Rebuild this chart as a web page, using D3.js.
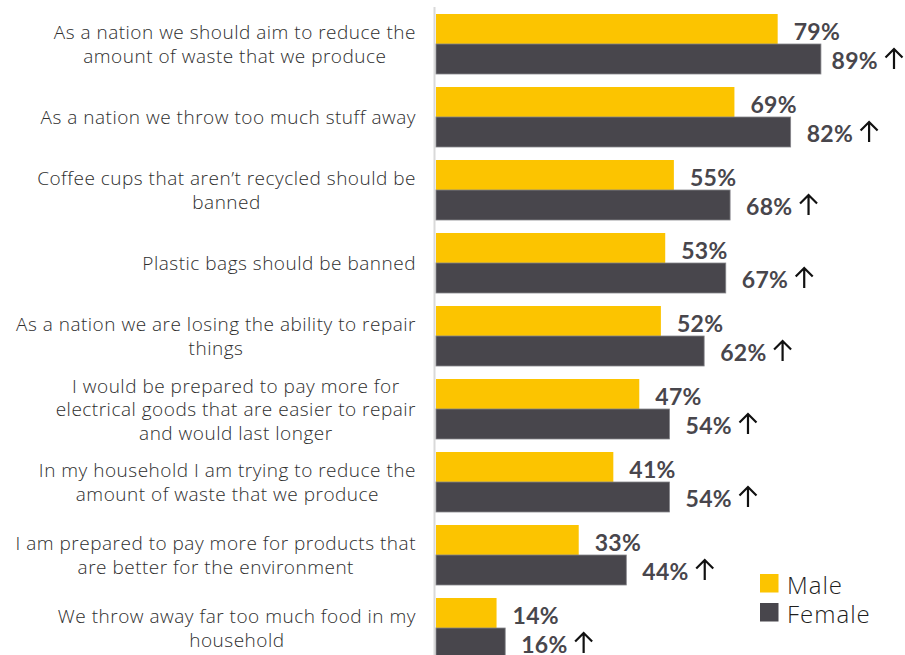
<!DOCTYPE html>
<html>
<head>
<meta charset="utf-8">
<script src="https://cdn.jsdelivr.net/npm/d3@7"></script>
<style>
  html, body { margin: 0; padding: 0; background: #fff; }
  svg { display: block; }
</style>
</head>
<body>
<svg id="chart" width="905" height="655"></svg>
<script>
// Survey statements (each entry is the wrapped lines of one label)
const statements = [
  ["As a nation we should aim to reduce the", "amount of waste that we produce"],
  ["As a nation we throw too much stuff away"],
  ["Coffee cups that aren\u2019t recycled should be", "banned"],
  ["Plastic bags should be banned"],
  ["As a nation we are losing the ability to repair", "things"],
  ["I would be prepared to pay more for", "electrical goods that are easier to repair", "and would last longer"],
  ["In my household I am trying to reduce the", "amount of waste that we produce"],
  ["I am prepared to pay more for products that", "are better for the environment"],
  ["We throw away far too much food in my", "household"]
];
const maleValues   = [79, 69, 55, 53, 52, 47, 41, 33, 14];
const femaleValues = [89, 82, 68, 67, 62, 54, 54, 44, 16];
const seriesNames  = ["Male", "Female"];
const seriesColors = ["#FCC400", "#48464C"];

const W = 905, H = 655;
const svg = d3.select("#chart");

const x = d3.scaleLinear().domain([0, 100]).range([436, 868.5]);
const y = d3.scaleBand()
  .domain(d3.range(statements.length))
  .range([14, 658])
  .paddingInner(13 / 73)
  .paddingOuter(0);
const ySeries = d3.scaleBand().domain(seriesNames).range([0, y.bandwidth()]);
const color = d3.scaleOrdinal().domain(seriesNames).range(seriesColors);

const rows = statements.map((lines, i) => ({
  i, lines,
  values: [
    { key: "Male", value: maleValues[i] },
    { key: "Female", value: femaleValues[i] }
  ]
}));

// vertical baseline
svg.append("line")
  .attr("x1", 434.5).attr("x2", 434.5)
  .attr("y1", 7).attr("y2", H)
  .attr("stroke", "#d9d9d9").attr("stroke-width", 2);

const groups = svg.selectAll("g.row").data(rows).join("g")
  .attr("class", "row")
  .attr("transform", d => `translate(0,${y(d.i)})`);

// bars
groups.selectAll("rect").data(d => d.values).join("rect")
  .attr("x", x(0))
  .attr("y", d => ySeries(d.key))
  .attr("width", d => x(d.value) - x(0))
  .attr("height", ySeries.bandwidth())
  .attr("fill", d => color(d.key))
  .attr("stroke", d => d.key === "Female" ? "#86858a" : "none")
  .attr("stroke-width", 0.8);

// value labels
const labelFont = "Lato, 'Open Sans', sans-serif";
groups.each(function (d) {
  const g = d3.select(this);
  d.values.forEach(v => {
    const cy = ySeries(v.key) + ySeries.bandwidth() / 2;
    const t = g.append("text")
      .attr("font-family", labelFont)
      .attr("font-weight", 700)
      .attr("font-size", 23)
      .attr("letter-spacing", 0.3)
      .attr("fill", "#48464C")
      .attr("dominant-baseline", "central")
      .attr("y", cy + (v.key === "Female" ? 1 : 2))
      .text(v.value + "%");
    const tw = t.node().getComputedTextLength();
    let lx = x(v.value) + 16;
    if (v.key === "Female") lx = Math.min(lx, W - 27 - tw);
    t.attr("x", lx);
    if (v.key === "Female") {
      // upward arrow after the female value
      const ax = lx + tw + 7 + 9, top = cy - 10, bot = cy + 10;
      g.append("path")
        .attr("d", `M${ax},${bot}V${top}M${ax - 8.5},${top + 8.5}L${ax},${top}L${ax + 8.5},${top + 8.5}`)
        .attr("fill", "none")
        .attr("stroke", "#111")
        .attr("stroke-width", 2.2)
        .attr("stroke-linecap", "butt")
        .attr("stroke-linejoin", "miter");
    }
  });
});

// statement labels: block right-aligned, lines centred within the block
const catFont = "'Open Sans', Lato, sans-serif";
const lineH = 23.5;
groups.each(function (d) {
  const g = d3.select(this);
  const cy = y.bandwidth() / 2;
  const n = d.lines.length;
  const texts = d.lines.map((line, k) => g.append("text")
    .attr("font-family", catFont)
    .attr("font-weight", 300)
    .attr("font-size", 19)
    .attr("letter-spacing", 0.5)
    .attr("fill", "#2e2e2e")
    .attr("text-anchor", "middle")
    .attr("dominant-baseline", "central")
    .attr("y", cy + (k - (n - 1) / 2) * lineH)
    .text(line));
  const maxW = d3.max(texts, t => t.node().getComputedTextLength());
  texts.forEach(t => t.attr("x", 416 - maxW / 2));
});

// legend
const legend = svg.append("g").attr("transform", "translate(760,574)");
seriesNames.forEach((name, k) => {
  const lg = legend.append("g").attr("transform", `translate(0,${k * 29})`);
  lg.append("rect").attr("width", 18.5).attr("height", 18.5).attr("fill", color(name));
  lg.append("text")
    .attr("x", 27).attr("y", 10)
    .attr("dominant-baseline", "central")
    .attr("font-family", catFont)
    .attr("font-weight", 300)
    .attr("font-size", 24)
    .attr("letter-spacing", 1)
    .attr("fill", "#1e1e1e")
    .text(name);
});
</script>
</body>
</html>
